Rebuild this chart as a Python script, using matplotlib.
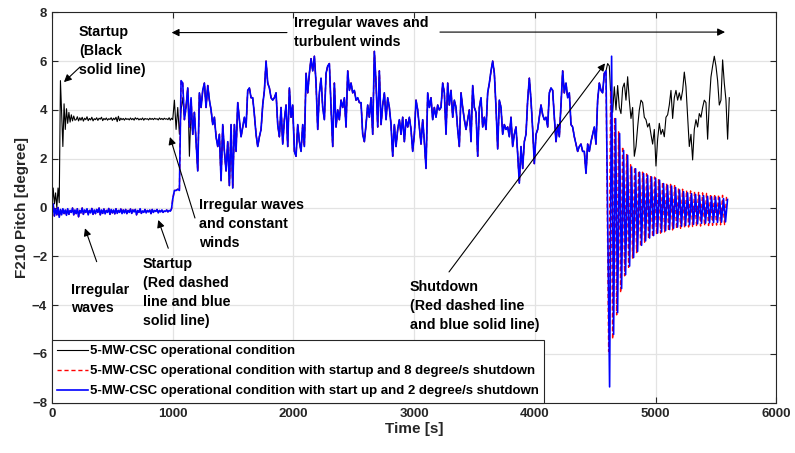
import numpy as np
import matplotlib
matplotlib.use('Agg')
import matplotlib.pyplot as plt

plt.rcParams['font.family'] = ['Liberation Sans', 'DejaVu Sans']

# ── Data ──────────────────────────────────────────────────────────────────────
# 0-990 s, 10 s step
black_start = [0.0, 0.8, 0.15, 0.6, 0.0, 0.8, 0.2, 5.2, 3.9, 2.5,
               4.25, 3.2, 4.05, 3.45, 3.9, 3.5, 3.8, 3.55, 3.75, 3.58,
               3.60, 3.72, 3.55, 3.68, 3.58, 3.70, 3.54, 3.66, 3.60, 3.72,
               3.56, 3.65, 3.59, 3.70, 3.55, 3.64, 3.60, 3.68, 3.57, 3.66,
               3.62, 3.70, 3.56, 3.65, 3.60, 3.67, 3.58, 3.64, 3.61, 3.68,
               3.57, 3.66, 3.60, 3.70, 3.52, 3.74, 3.56, 3.66, 3.60, 3.65,
               3.58, 3.66, 3.61, 3.64, 3.59, 3.67, 3.60, 3.65, 3.58, 3.68,
               3.62, 3.66, 3.59, 3.64, 3.60, 3.67, 3.58, 3.65, 3.62, 3.64,
               3.59, 3.66, 3.61, 3.65, 3.60, 3.66, 3.62, 3.64, 3.59, 3.67,
               3.61, 3.65, 3.60, 3.66, 3.62, 3.64, 3.60, 3.68, 3.58, 3.66]
blue_start = [-0.30, 0.15, -0.35, -0.05, -0.30, 0.00, -0.40, -0.08, -0.30, -0.05,
              -0.25, -0.10, -0.32, -0.05, -0.28, -0.12, -0.20, -0.02, -0.30, -0.10,
              -0.25, -0.05, -0.38, -0.12, -0.22, -0.02, -0.28, -0.10, -0.20, -0.05,
              -0.30, -0.12, -0.22, -0.04, -0.28, -0.10, -0.25, -0.08, -0.20, -0.02,
              -0.30, -0.10, -0.24, -0.06, -0.26, -0.12, -0.20, -0.04, -0.28, -0.08,
              -0.22, -0.10, -0.26, -0.05, -0.24, -0.12, -0.20, -0.06, -0.25, -0.10,
              -0.22, -0.08, -0.25, -0.12, -0.20, -0.06, -0.24, -0.10, -0.18, -0.08,
              -0.30, -0.12, -0.20, -0.05, -0.24, -0.14, -0.20, -0.08, -0.22, -0.12,
              -0.18, -0.10, -0.25, -0.08, -0.20, -0.12, -0.16, -0.08, -0.22, -0.12,
              -0.18, -0.10, -0.20, -0.14, -0.16, -0.10, -0.18, -0.12, -0.15, -0.05]

# 1000-4588 s, 13.8 s step: common to all three runs (blue/red)
turbulent = [0.35, 0.7, 0.7, 0.75, 0.7, 5.2, 5.1, 3.6, 4.1, 4.9,
             3.3, 4.5, 3.0, 3.9, 2.7, 1.5, 4.7, 4.1, 4.8, 5.1,
             4.1, 5.0, 4.4, 4.0, 3.4, 3.7, 2.9, 2.5, 3.0, 1.1,
             3.4, 2.3, 1.5, 2.7, 0.9, 3.4, 0.8, 3.4, 2.3, 4.3,
             3.6, 2.9, 3.3, 3.7, 3.3, 4.8, 4.9, 4.5, 4.5, 3.8,
             3.0, 2.5, 2.9, 3.2, 4.2, 4.8, 6.0,
             5.1, 4.9, 4.5, 4.4, 4.5, 4.7, 3.4, 2.9, 4.1, 2.6,
             3.6, 4.2, 2.5, 4.9, 3.7, 4.2, 2.3, 2.1, 3.4, 2.7,
             2.3, 3.4, 2.5, 5.5, 4.7, 5.5, 6.1, 5.6, 6.2, 5.1,
             3.2, 4.7, 5.3, 4.1, 3.6, 5.5, 5.8, 5.9, 4.1, 2.5,
             5.1, 3.3, 4.0, 3.6, 4.4, 4.1, 4.5, 3.3, 5.6, 4.8,
             5.1, 4.7, 4.8, 4.4, 4.5, 4.3,
             4.3, 3.0, 2.7, 3.4, 4.2, 3.7, 4.5, 3.0, 6.4, 5.1,
             3.3, 5.6, 3.4, 4.2, 4.7, 3.6, 4.5, 4.1, 3.4, 2.1,
             3.4, 2.5, 3.2, 3.6, 3.0, 3.7, 2.7, 3.6, 3.3, 3.7,
             3.2, 2.3, 3.0, 4.4, 4.0, 3.3, 2.6, 3.6, 2.7, 1.6,
             4.7, 4.1, 4.5, 3.6, 4.1, 3.7, 4.2, 4.0, 4.1, 5.1,
             4.7, 3.0, 5.1, 4.2, 4.8, 3.7, 4.4,
             4.1, 3.2, 2.5, 4.7, 4.1, 3.6, 3.2, 3.6, 4.0, 2.7,
             5.0, 4.1, 3.9, 2.1, 4.1, 4.5, 3.3, 3.7, 3.2, 4.7,
             5.1, 5.6, 6.0, 5.5, 4.1, 2.4, 4.4, 4.1, 3.0, 3.4,
             3.2, 3.3, 2.9, 3.7, 2.5, 3.0, 3.3, 2.2, 1.0, 2.5,
             1.6, 2.7, 3.0, 4.4, 5.3, 4.4, 3.2, 1.8, 3.0, 3.2,
             3.7, 4.2, 3.8, 3.6, 3.7, 3.3, 4.7,
             4.9, 4.8, 3.7, 2.7, 3.4, 2.9, 4.2, 5.6, 4.7, 5.1,
             4.5, 4.7, 3.4, 3.3, 2.9, 2.6, 2.3, 2.5, 2.6, 2.3,
             2.3, 1.4, 2.6, 2.3, 2.7, 3.0, 3.3, 2.6, 4.4, 5.1,
             4.8, 4.7, 5.5, 5.6]
# black differs from the others during the first 13 samples after 1000 s
black_turb_head = [3.6, 4.4, 3.2, 4.1, 3.0, 4.0, 4.5, 3.7, 4.2, 4.9, 2.1, 4.1, 3.0]
# black after 4600 s (no shutdown), same 13.8 s step
black_post = [5.9, 5.8, 4.4, 3.9, 4.95, 4.0, 5.0, 4.1, 3.85, 4.9,
              5.1, 4.4, 5.36, 4.4, 3.65, 4.1, 2.1, 2.5, 3.3, 4.0,
              4.4, 4.3, 3.7, 3.6, 3.3, 3.45, 3.0, 2.6, 3.2, 1.7,
              2.8, 3.45, 3.0, 3.2, 2.9, 3.7, 3.8, 4.2, 4.8, 3.65,
              4.5, 4.8, 4.4, 4.7, 4.4, 4.8, 5.55, 4.95, 3.7, 2.5,
              3.0, 1.95, 3.2, 3.6, 3.3, 3.85, 3.7, 4.1, 4.4, 4.3,
              2.8, 4.3, 5.35, 5.8, 6.2, 5.8, 5.2, 4.2, 4.4, 6.05,
              5.1, 4.4, 2.8, 4.5]
# shutdown oscillation, alternating trough / peak every half period
shut_blue = [-7.35, 6.2, -5.2, 3.64, -4.31, 3.03, -3.32, 2.34, -2.75, 2.14,
             -2.4, 1.66, -2.05, 1.59, -1.8, 1.45, -1.55, 1.39, -1.37, 1.32,
             -1.25, 1.25, -1.15, 1.2, -1.05, 1.12, -1.0, 0.98, -0.95, 0.91,
             -0.9, 0.88, -0.85, 0.82, -0.8, 0.72, -0.77, 0.65, -0.74, 0.6,
             -0.71, 0.57, -0.69, 0.54, -0.67, 0.5, -0.65, 0.49, -0.64, 0.46,
             -0.63, 0.44, -0.62, 0.43, -0.61, 0.4, -0.6, 0.37, -0.59, 0.33]
shut_red = [-5.9, 4.8, -5.4, 3.7, -4.4, 3.1, -3.5, 2.5, -2.8, 2.2,
            -2.45, 1.75, -2.1, 1.65, -1.85, 1.5, -1.6, 1.45, -1.42, 1.38,
            -1.3, 1.3, -1.2, 1.25, -1.1, 1.17, -1.05, 1.05, -1.0, 0.98,
            -0.96, 0.95, -0.92, 0.9, -0.88, 0.8, -0.85, 0.75, -0.82, 0.7,
            -0.8, 0.68, -0.78, 0.65, -0.77, 0.62, -0.76, 0.6, -0.75, 0.58,
            -0.74, 0.56, -0.73, 0.55, -0.72, 0.53, -0.71, 0.5, -0.7, 0.45]

# ── Time bases ────────────────────────────────────────────────────────────────
t_start = np.arange(len(black_start)) * 10.0
t_turb = 1000 + 13.8 * np.arange(len(turbulent))
t_post = 1000 + 13.8 * np.arange(len(turbulent), len(turbulent) + len(black_post))
t_shut_blue = 4618 + 16.55 * np.arange(len(shut_blue))
t_shut_red = 4610 + 16.55 * np.arange(len(shut_red))

black_turb = black_turb_head + turbulent[len(black_turb_head):]
t_black = np.concatenate([t_start, t_turb, t_post])
y_black = np.concatenate([black_start, black_turb, black_post])
t_blue = np.concatenate([t_start, t_turb, t_shut_blue])
y_blue = np.concatenate([blue_start, turbulent, shut_blue])
t_red = np.concatenate([t_start, t_turb, t_shut_red])
y_red = np.concatenate([blue_start, turbulent, shut_red])

# ── Figure ────────────────────────────────────────────────────────────────────
fig = plt.figure(figsize=(7.95, 4.53), dpi=100)
ax = fig.add_axes([0.0654, 0.111, 0.9113, 0.8618])

ax.plot(t_black, y_black, color='k', lw=0.8,
        label='5-MW-CSC operational condition')
ax.plot(t_red, y_red, color='red', lw=1.0, ls=(0, (3, 2)),
        label='5-MW-CSC operational condition with startup and 8 degree/s shutdown')
ax.plot(t_blue, y_blue, color='blue', lw=1.2,
        label='5-MW-CSC operational condition with start up and 2 degree/s shutdown')

ax.set_xlim(0, 6000)
ax.set_ylim(-8, 8)
ax.set_xticks(range(0, 6001, 1000))
ax.set_yticks(range(-8, 9, 2))
ax.grid(True, color='#e3e3e3', lw=0.9)
ax.set_axisbelow(True)
ax.tick_params(direction='in', top=True, right=True, length=4, width=0.8,
               labelsize=9.5, colors='#262626')
for lbl in ax.get_xticklabels() + ax.get_yticklabels():
    lbl.set_fontweight('bold')
for sp in ax.spines.values():
    sp.set_color('#262626')
    sp.set_linewidth(0.8)

ax.set_xlabel('Time [s]', fontsize=11, fontweight='bold', color='#262626', labelpad=2)
ax.set_ylabel('F210 Pitch [degree]', fontsize=11, fontweight='bold', color='#262626', labelpad=2)

leg = ax.legend(loc='lower left', borderaxespad=0, fancybox=False, framealpha=1,
                edgecolor='#262626', handlelength=2.3, handletextpad=0.2,
                borderpad=0.4, labelspacing=0.6,
                prop={'size': 9.5, 'weight': 'bold'})
leg.get_frame().set_linewidth(0.8)

# ── Annotations ───────────────────────────────────────────────────────────────
txt = dict(fontsize=10.3, fontweight='bold', color='k', ha='left', va='center',
           linespacing=1.45)
arw = dict(arrowstyle='-|>', color='k', lw=0.8, mutation_scale=11,
           shrinkA=0, shrinkB=0)

ax.text(224, 6.41, 'Startup\n(Black\nsolid line)', **txt)
ax.annotate('', xy=(99, 5.14), xytext=(232, 5.76), arrowprops=arw)

ax.text(2004, 7.19, 'Irregular waves and\nturbulent winds', **txt)
ax.annotate('', xy=(991, 7.17), xytext=(1946, 7.17), arrowprops=arw)
ax.annotate('', xy=(5574, 7.19), xytext=(3213, 7.19), arrowprops=arw)

ax.text(1217, -0.68, 'Irregular waves\nand constant\nwinds', **txt)
ax.annotate('', xy=(977, 2.89), xytext=(1184, -0.43), arrowprops=arw)

ax.text(155, -3.75, 'Irregular\nwaves', **txt)
ax.annotate('', xy=(273, -0.85), xytext=(370, -2.22), arrowprops=arw)

ax.text(751, -3.48, 'Startup\n(Red dashed\nline and blue\nsolid line)', **txt)
ax.annotate('', xy=(880, -0.51), xytext=(963, -1.67), arrowprops=arw)

ax.text(2965, -4.04, 'Shutdown\n(Red dashed line\nand blue solid line)', **txt)
ax.annotate('', xy=(4580, 5.91), xytext=(3288, -2.64), arrowprops=arw)

fig.savefig('out.png', dpi=100, facecolor='white')
